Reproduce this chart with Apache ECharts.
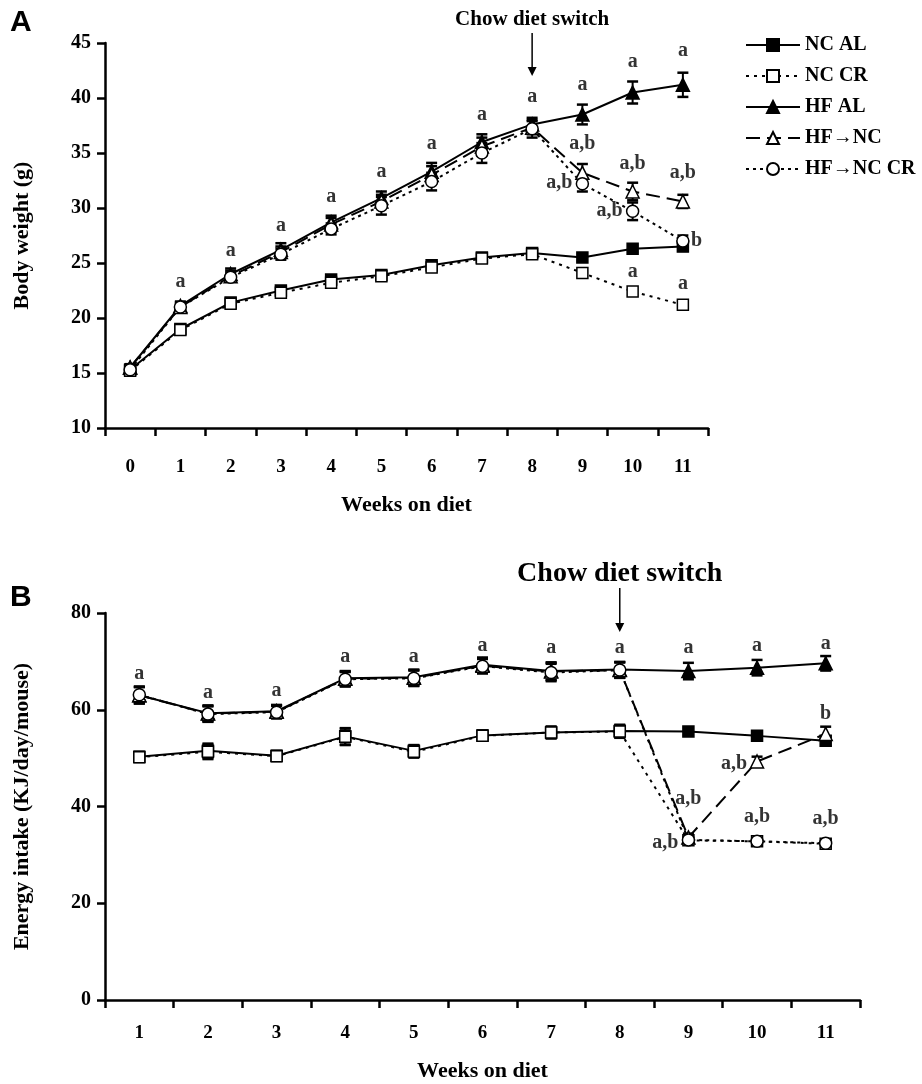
<!DOCTYPE html>
<html><head><meta charset="utf-8">
<script src="https://cdn.jsdelivr.net/npm/echarts@6/dist/echarts.min.js"></script>
<style>html,body{margin:0;padding:0;background:#fff}#c{width:922px;height:1084px}</style>
</head><body><div id="c"></div>
<script>
// ---------- DATA ----------
const weeksA = ['0','1','2','3','4','5','6','7','8','9','10','11'];
const weeksB = ['1','2','3','4','5','6','7','8','9','10','11'];
const yTicksA = [10, 45, 5];   // min, max, interval
const yTicksB = [0, 80, 20];

// Panel A: body weight (g)
const ncAL_A   = [15.3,19.0,21.4,22.5,23.5,23.9,24.8,25.5,25.9,25.5,26.3,26.5];
const ncCR_A   = [15.2,18.9,21.3,22.3,23.2,23.8,24.6,25.4,25.8,24.1,22.4,21.2];
const hfAL_A   = [15.5,21.1,24.0,26.2,28.7,30.9,33.3,36.0,37.6,38.5,40.5,41.2];
const hfNC_A   = [15.5,21.0,23.8,26.0,28.5,30.6,33.0,35.6,37.3,33.2,31.5,30.6];
const hfNCCR_A = [15.3,21.0,23.7,25.8,28.1,30.2,32.4,35.0,37.2,32.2,29.7,27.0];
const ncAL_Ae   = [0.3,0.3,0.3,0.3,0.3,0.3,0.3,0.3,0.3,0.3,0.3,0.4];
const ncCR_Ae   = [0.3,0.3,0.3,0.3,0.3,0.3,0.3,0.3,0.3,0.3,0.3,0.3];
const hfAL_Ae   = [0.3,0.4,0.5,0.6,0.6,0.6,0.8,0.7,0.6,0.9,1.0,1.1];
const hfNC_Ae   = [0.3,0.4,0.5,0.5,0.6,0.6,0.8,0.8,0.6,0.8,0.8,0.6];
const hfNCCR_Ae = [0.3,0.4,0.4,0.5,0.5,0.8,0.8,0.9,0.8,0.7,0.8,0.5];

// Panel B: energy intake (KJ/day/mouse)
const ncAL_B   = [50.3,51.5,50.5,54.5,51.5,54.7,55.3,55.6,55.5,54.6,53.6];
const ncCR_B   = [50.2,51.3,50.4,54.4,51.3,54.6,55.3,55.5,33.0,32.8,32.3];
const hfAL_B   = [63.0,59.3,59.7,66.5,66.7,69.3,68.0,68.3,68.0,68.7,69.6];
const hfNC_B   = [63.0,59.2,59.6,66.4,66.6,69.1,67.9,68.2,33.6,49.3,55.0];
const hfNCCR_B = [63.1,59.1,59.5,66.3,66.5,69.0,67.7,68.2,33.1,32.8,32.4];
const ncAL_Be   = [1.0,1.5,1.0,1.7,1.2,1.0,1.2,1.3,0.8,0.8,0.9];
const ncCR_Be   = [1.0,1.5,1.0,1.7,1.2,1.0,1.2,1.3,0.8,0.8,0.8];
const hfAL_Be   = [1.7,1.6,1.3,1.5,1.6,1.5,1.8,1.6,1.7,1.6,1.5];
const hfNC_Be   = [1.7,1.6,1.3,1.5,1.6,1.5,1.8,1.6,0.8,1.0,1.5];
const hfNCCR_Be = [1.7,1.6,1.3,1.5,1.6,1.5,1.8,1.6,0.8,0.6,0.7];

// Significance annotations: [week index, value, text, side]
const annA = [
  [1,23.25,'a','c'],[2,26.1,'a','c'],[3,28.4,'a','c'],[4,31.0,'a','c'],[5,33.3,'a','c'],
  [6,35.8,'a','c'],[7,38.5,'a','c'],[8,40.1,'a','c'],[9,41.2,'a','c'],[10,43.3,'a','c'],[11,44.3,'a','c'],
  [9,35.8,'a,b','c'],[9,32.3,'a,b','l'],[10,34.0,'a,b','c'],[10,29.7,'a,b','l'],
  [11,33.2,'a,b','c'],[11,27.0,'b','r'],[10,24.2,'a','c'],[11,23.1,'a','c']
];
const annB = [
  [0,67.5,'a','c'],[1,63.5,'a','c'],[2,63.9,'a','c'],[3,70.9,'a','c'],[4,71.0,'a','c'],
  [5,73.2,'a','c'],[6,72.9,'a','c'],[7,72.9,'a','c'],[8,72.7,'a','c'],[9,73.2,'a','c'],[10,73.7,'a','c'],
  [10,59.1,'b','c'],[9,48.8,'a,b','l'],[8,41.5,'a,b','c'],[8,32.5,'a,b','l'],
  [9,37.8,'a,b','c'],[10,37.4,'a,b','c']
];
const switchWeek = 8;
const names = ['NC AL','NC CR','HF AL','HF\u2192NC','HF\u2192NC CR'];

// ---------- STYLES ----------
const SERIF = "'Liberation Serif','Times New Roman',serif";
const styles = {
  'NC AL':      {symbol:'rect', fill:'#000', dash:'solid', size:11},
  'NC CR':      {symbol:'rect', fill:'#fff', dash:[3,5], size:11},
  'HF AL':      {symbol:'triangle', fill:'#000', dash:'solid', size:13},
  'HF\u2192NC':    {symbol:'triangle', fill:'#fff', dash:[14,7], size:13},
  'HF\u2192NC CR': {symbol:'circle', fill:'#fff', dash:[3,4], size:12}
};
const panelA = {'NC AL':[ncAL_A,ncAL_Ae],'NC CR':[ncCR_A,ncCR_Ae],'HF AL':[hfAL_A,hfAL_Ae],'HF\u2192NC':[hfNC_A,hfNC_Ae],'HF\u2192NC CR':[hfNCCR_A,hfNCCR_Ae]};
const panelB = {'NC AL':[ncAL_B,ncAL_Be],'NC CR':[ncCR_B,ncCR_Be],'HF AL':[hfAL_B,hfAL_Be],'HF\u2192NC':[hfNC_B,hfNC_Be],'HF\u2192NC CR':[hfNCCR_B,hfNCCR_Be]};
const drawOrder = ['HF AL','NC AL','HF\u2192NC','NC CR','HF\u2192NC CR'];

function errRender(params, api){
  const x = api.value(0), lo = api.value(1), hi = api.value(2);
  const t = api.coord([x, hi]), b = api.coord([x, lo]);
  const w = 5.5;
  const st = {stroke:'#000', lineWidth:2};
  return {type:'group', children:[
    {type:'line', shape:{x1:t[0],y1:t[1],x2:b[0],y2:b[1]}, style:st},
    {type:'line', shape:{x1:t[0]-w,y1:t[1],x2:t[0]+w,y2:t[1]}, style:{stroke:'#000',lineWidth:2.5}},
    {type:'line', shape:{x1:b[0]-w,y1:b[1],x2:b[0]+w,y2:b[1]}, style:{stroke:'#000',lineWidth:2.5}}
  ]};
}

const series = [];
[[panelA,0],[panelB,1]].forEach(([panel, gi]) => {
  drawOrder.forEach(n => {
    const [vals, errs] = panel[n];
    series.push({type:'custom', xAxisIndex:gi, yAxisIndex:gi, renderItem:errRender, silent:true,
      encode:{x:0, y:[1,2]}, z:2,
      data: vals.map((v,i)=>[i, v-errs[i], v+errs[i]])});
  });
  drawOrder.forEach(n => {
    const s = styles[n];
    series.push({type:'line', name:n, xAxisIndex:gi, yAxisIndex:gi, data:panel[n][0],
      symbol:s.symbol, symbolSize:s.size, showSymbol:true, z:3,
      lineStyle:{color:'#000', width:2, type:s.dash},
      itemStyle:{color:s.fill, borderColor:'#000', borderWidth:1.5},
      emphasis:{disabled:true}});
  });
});
[[annA,0],[annB,1]].forEach(([ann, gi]) => {
  series.push({type:'scatter', xAxisIndex:gi, yAxisIndex:gi, symbolSize:0, silent:true, z:5,
    data: ann.map(a => ({value:[a[0], a[1]],
      label:{show:true, formatter:a[2], color:'#000', fontFamily:SERIF, fontWeight:'bold', fontSize:20,
        position: a[3]==='l' ? 'left' : (a[3]==='r' ? 'right' : 'inside'),
        distance: a[3]==='l' ? 10 : 8}}))});
});

function xAxis(gi, data){
  return {type:'category', gridIndex:gi, data:data, boundaryGap:true,
    axisLine:{show:true, lineStyle:{color:'#000', width:2.5}},
    axisTick:{show:true, inside:false, length:8, lineStyle:{color:'#000', width:2.5}},
    axisLabel:{color:'#000', fontFamily:SERIF, fontWeight:'bold', fontSize:19, margin: gi===0 ? 30 : 24},
    splitLine:{show:false},
    name:'Weeks on diet', nameLocation:'middle', nameGap: gi===0 ? 66 : 60,
    nameMoveOverlap:false,
    nameTextStyle:{color:'#000', fontFamily:SERIF, fontWeight:'bold', fontSize:22}};
}
function yAxis(gi, t, name){
  return {type:'value', gridIndex:gi, min:t[0], max:t[1], interval:t[2],
    axisLine:{show:true, lineStyle:{color:'#000', width:2.5}},
    axisTick:{show:true, inside:false, length:8, lineStyle:{color:'#000', width:2.5}},
    axisLabel:{color:'#000', fontFamily:SERIF, fontWeight:'bold', fontSize:20, margin:14},
    splitLine:{show:false},
    name:name, nameLocation:'middle', nameGap: 72, nameRotate:90,
    nameTextStyle:{color:'#000', fontFamily:SERIF, fontWeight:'bold', fontSize:22}};
}

const chart = echarts.init(document.getElementById('c'), null, {renderer:'canvas'});
chart.setOption({
  animation:false,
  backgroundColor:'#fff',
  grid:[{left:105, top:43, width:603, height:385},{left:105, top:613, width:755, height:387}],
  xAxis:[xAxis(0, weeksA), xAxis(1, weeksB)],
  yAxis:[yAxis(0, yTicksA, 'Body weight (g)'), yAxis(1, yTicksB, 'Energy intake (KJ/day/mouse)')],
  legend:{orient:'vertical', left:740, top:30, itemGap:11, itemWidth:54, itemHeight:15,
    selectedMode:false, data:names,
    textStyle:{color:'#000', fontFamily:SERIF, fontWeight:'bold', fontSize:20}},
  tooltip:{show:false},
  series:series
});

const pA = chart.convertToPixel({gridIndex:0}, [switchWeek, yTicksA[1]]);
const pB = chart.convertToPixel({gridIndex:1}, [switchWeek-1, yTicksB[1]]);
function arrow(x, y1, y2){
  return [
    {type:'line', shape:{x1:x,y1:y1,x2:x,y2:y2-6}, style:{stroke:'#000', lineWidth:1.5}},
    {type:'polygon', shape:{points:[[x-4.5,y2-9],[x+4.5,y2-9],[x,y2]]}, style:{fill:'#000'}}
  ];
}
chart.setOption({graphic:[
  {type:'text', left:10, top:8, style:{text:'A', fontFamily:"'Liberation Sans',Arial,sans-serif", fontWeight:'bold', fontSize:30, fill:'#000'}},
  {type:'text', left:10, top:583, style:{text:'B', fontFamily:"'Liberation Sans',Arial,sans-serif", fontWeight:'bold', fontSize:30, fill:'#000'}},
  {type:'text', x:pA[0], y:20, style:{text:'Chow diet switch', fontFamily:SERIF, fontWeight:'bold', fontSize:21, fill:'#000', align:'center', verticalAlign:'middle'}},
  {type:'text', x:pB[0], y:574, style:{text:'Chow diet switch', fontFamily:SERIF, fontWeight:'bold', fontSize:28, fill:'#000', align:'center', verticalAlign:'middle'}},
  ...arrow(pA[0], 33, 76),
  ...arrow(pB[0], 588, 632)
]});
</script>
</body></html>
